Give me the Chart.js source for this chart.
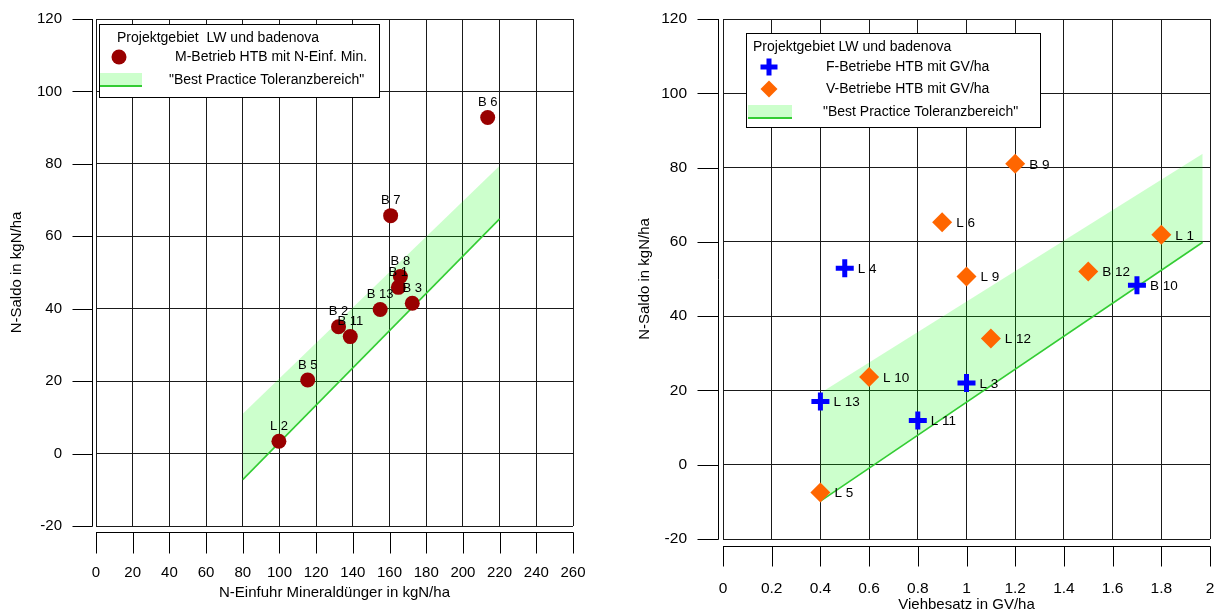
<!DOCTYPE html>
<html>
<head>
<meta charset="utf-8">
<script src="https://cdn.jsdelivr.net/npm/chart.js@4.4.0/dist/chart.umd.min.js"></script>
<style>
  html, body { margin: 0; padding: 0; background: #fff; }
  #wrap { position: relative; width: 1218px; height: 614px; }
  canvas { position: absolute; top: 0; }
  #left { left: 0; }
  #right { left: 609px; }
</style>
</head>
<body>
<div id="wrap">
  <canvas id="left" width="609" height="614"></canvas>
  <canvas id="right" width="609" height="614"></canvas>
</div>
<script>
// ---- linkes Diagramm: N-Einfuhr Mineraldünger ----
const mNames = ['B 6', 'B 7', 'B 8', 'B 1', 'B 3', 'B 13', 'B 2', 'B 11', 'B 5', 'L 2'];
const mX = [213.5, 160.6, 165.9, 164.8, 172.4, 154.9, 132.2, 138.6, 115.4, 99.7];
const mY = [92.8, 65.7, 48.9, 45.9, 41.5, 39.8, 35.0, 32.3, 20.3, 3.4];
const bandLeftX = [80, 220];
const bandLeftUpper = [11, 79.5];
const bandLeftLower = [-7.2, 64.8];
const xTicksLeft = [0, 20, 40, 60, 80, 100, 120, 140, 160, 180, 200, 220, 240, 260];
const yTicks = [-20, 0, 20, 40, 60, 80, 100, 120];

// ---- rechtes Diagramm: Viehbesatz ----
const fNames = ['L 4', 'B 10', 'L 3', 'L 13', 'L 11'];
const fX = [0.5, 1.7, 1.0, 0.4, 0.8];
const fY = [52.9, 48.3, 22.0, 17.0, 11.9];
const vNames = ['B 9', 'L 6', 'L 1', 'L 9', 'B 12', 'L 12', 'L 10', 'L 5'];
const vX = [1.2, 0.9, 1.8, 1.0, 1.5, 1.1, 0.6, 0.4];
const vY = [81.0, 65.3, 61.9, 50.7, 52.0, 34.0, 23.6, -7.5];
const bandRightX = [0.4, 1.97];
const bandRightUpper = [19.3, 83.7];
const bandRightLower = [-9.8, 59.9];
const xTicksRight = [0, 0.2, 0.4, 0.6, 0.8, 1, 1.2, 1.4, 1.6, 1.8, 2];
const xTickLabelsRight = ['0', '0.2', '0.4', '0.6', '0.8', '1', '1.2', '1.4', '1.6', '1.8', '2'];

const legendTitleLeft = 'Projektgebiet  LW und badenova';
const legendTitleRight = 'Projektgebiet LW und badenova';
const mLegend = 'M-Betrieb HTB mit N-Einf. Min.';
const fLegend = 'F-Betriebe HTB mit GV/ha';
const vLegend = 'V-Betriebe HTB mit GV/ha';
const bandLegend = '"Best Practice Toleranzbereich"';
const yTitle = 'N-Saldo in kgN/ha';

const FONT = "'Liberation Sans', Arial, sans-serif";
const bandFill = 'rgba(0, 255, 0, 0.2)';
const bandLine = '#33cc33';
const darkRed = '#990000';
const blue = '#0000ff';
const orange = '#ff6600';

Chart.defaults.font.family = FONT;
Chart.defaults.color = '#000';

const pts = (xs, ys) => xs.map((x, i) => ({ x: x, y: ys[i] }));

// Achsen mit Abstand zum Plotbereich
function offsetAxes(gapY, tickY, gapX, tickX) {
  return {
    id: 'offsetAxes',
    afterDraw(chart) {
      const { ctx, chartArea: a, scales: { x, y } } = chart;
      ctx.save();
      ctx.strokeStyle = '#000';
      ctx.lineWidth = 1;
      ctx.beginPath();
      const ax = Math.round(a.left - gapY) + 0.5;
      ctx.moveTo(ax, a.top);
      ctx.lineTo(ax, a.bottom + 0.5);
      y.ticks.forEach(t => {
        const py = Math.round(y.getPixelForValue(t.value)) + 0.5;
        ctx.moveTo(ax - tickY, py);
        ctx.lineTo(ax, py);
      });
      const ay = Math.round(a.bottom + gapX) + 0.5;
      ctx.moveTo(a.left, ay);
      ctx.lineTo(a.right + 0.5, ay);
      x.ticks.forEach(t => {
        const px = Math.round(x.getPixelForValue(t.value)) + 0.5;
        ctx.moveTo(px, ay);
        ctx.lineTo(px, ay + tickX);
      });
      ctx.stroke();
      ctx.restore();
    }
  };
}

// Beschriftung der Punkte
const pointNames = {
  id: 'pointNames',
  afterDatasetsDraw(chart) {
    const ctx = chart.ctx;
    ctx.save();
    chart.data.datasets.forEach((ds, i) => {
      if (!ds.names) return;
      ctx.font = ds.nameFont + 'px ' + FONT;
      ctx.fillStyle = '#000';
      ctx.textAlign = ds.nameAlign;
      ctx.textBaseline = 'middle';
      chart.getDatasetMeta(i).data.forEach((el, j) => {
        ctx.fillText(ds.names[j], el.x + ds.nameDx, el.y + ds.nameDy);
      });
    });
    ctx.restore();
  }
};

// Legende im Kasten
function boxLegend(cfg) {
  return {
    id: 'boxLegend',
    afterDraw(chart) {
      const ctx = chart.ctx;
      const [bx, by, bw, bh] = cfg.box;
      ctx.save();
      ctx.fillStyle = '#fff';
      ctx.fillRect(bx, by, bw, bh);
      ctx.strokeStyle = '#000';
      ctx.lineWidth = 1;
      ctx.strokeRect(bx + 0.5, by + 0.5, bw, bh);
      ctx.font = '14px ' + FONT;
      ctx.textAlign = 'left';
      ctx.textBaseline = 'middle';
      ctx.fillStyle = '#000';
      ctx.fillText(cfg.title, cfg.titleX, cfg.titleY);
      cfg.items.forEach(it => {
        if (it.band) {
          ctx.fillStyle = bandFill;
          ctx.fillRect(it.mx, it.my, it.mw, it.mh);
          ctx.strokeStyle = bandLine;
          ctx.lineWidth = 2;
          ctx.beginPath();
          ctx.moveTo(it.mx, it.my + it.mh);
          ctx.lineTo(it.mx + it.mw, it.my + it.mh);
          ctx.stroke();
        } else {
          ctx.fillStyle = it.color;
          ctx.strokeStyle = it.color;
          ctx.lineWidth = it.borderWidth;
          Chart.helpers.drawPoint(ctx, { pointStyle: it.style, radius: it.radius, borderWidth: it.borderWidth, rotation: 0 }, it.mx, it.my);
        }
        ctx.fillStyle = '#000';
        ctx.fillText(it.text, it.tx, it.ty);
      });
      ctx.restore();
    }
  };
}

function bandSets(xs, upper, lower) {
  return [
    { type: 'line', data: pts(xs, upper), showLine: true, borderColor: 'transparent', borderWidth: 0,
      pointRadius: 0, fill: '+1', backgroundColor: bandFill, order: 3 },
    { type: 'line', data: pts(xs, lower), showLine: true, borderColor: bandLine, borderWidth: 1.6,
      pointRadius: 0, fill: false, order: 2 }
  ];
}

function scales(o) {
  const grid = { color: '#1a1a1a', lineWidth: 1, drawTicks: false };
  return {
    x: {
      type: 'linear', min: o.xMin, max: o.xMax,
      afterBuildTicks: s => { s.ticks = o.xTicks.map(v => ({ value: v })); },
      ticks: { autoSkip: false, maxRotation: 0, padding: o.xPad, font: { size: o.tickSize },
               callback: (v, i) => o.xLabels[i] },
      grid: grid, border: { display: false },
      title: { display: true, text: o.xTitle, font: { size: 15 }, padding: { top: 0, bottom: o.xTitlePad } },
      // feste Höhe, keine zusätzliche Randpolsterung durch das Tick-Padding
      afterFit: s => { s.height = o.xHeight; s.paddingLeft = 0; s.paddingRight = 0; }
    },
    y: {
      type: 'linear', min: -20, max: 120,
      afterBuildTicks: s => { s.ticks = yTicks.map(v => ({ value: v })); },
      ticks: { autoSkip: false, padding: o.yPad, font: { size: o.tickSize },
               callback: (v, i) => String(yTicks[i]) },
      grid: grid, border: { display: false },
      title: { display: true, text: yTitle, font: { size: 15 }, padding: { top: o.yTitlePad, bottom: 0 } },
      afterFit: s => { s.width = o.yWidth; s.paddingTop = 0; s.paddingBottom = 0; }
    }
  };
}

const common = {
  responsive: false,
  animation: false,
  devicePixelRatio: 1,
  events: [],
  plugins: { legend: { display: false }, tooltip: { enabled: false } }
};

new Chart(document.getElementById('left'), {
  type: 'scatter',
  data: {
    datasets: [
      { data: pts(mX, mY), backgroundColor: darkRed, borderColor: darkRed, pointRadius: 7.5, borderWidth: 0,
        order: 1, names: mNames, nameFont: 13, nameAlign: 'center', nameDx: 0, nameDy: -15 }
    ].concat(bandSets(bandLeftX, bandLeftUpper, bandLeftLower))
  },
  options: Object.assign({}, common, {
    layout: { autoPadding: false, padding: { top: 19, right: 36, left: 0, bottom: 0 } },
    scales: scales({
      xMin: 0, xMax: 260, xTicks: xTicksLeft, xLabels: xTicksLeft.map(String),
      xTitle: 'N-Einfuhr Mineraldünger in kgN/ha', tickSize: 15,
      xPad: 38, xTitlePad: 12, xHeight: 88, yPad: 34, yTitlePad: 8, yWidth: 96
    })
  }),
  plugins: [offsetAxes(4, 20, 6, 21), pointNames, boxLegend({
    box: [99, 24, 280, 73], title: legendTitleLeft, titleX: 117, titleY: 38,
    items: [
      { style: 'circle', color: darkRed, radius: 7.5, borderWidth: 0, mx: 119, my: 57, text: mLegend, tx: 175, ty: 57 },
      { band: true, mx: 100, my: 73, mw: 42, mh: 13, text: bandLegend, tx: 169, ty: 80 }
    ]
  })]
});

new Chart(document.getElementById('right'), {
  type: 'scatter',
  data: {
    datasets: [
      { data: pts(fX, fY), pointStyle: 'cross', borderColor: blue, backgroundColor: blue, pointRadius: 9, borderWidth: 5,
        order: 1, names: fNames, nameFont: 13.5, nameAlign: 'left', nameDx: 13, nameDy: 1 },
      { data: pts(vX, vY), pointStyle: 'rectRot', borderColor: orange, backgroundColor: orange, pointRadius: 10, borderWidth: 0,
        order: 1, names: vNames, nameFont: 13.5, nameAlign: 'left', nameDx: 14, nameDy: 1 }
    ].concat(bandSets(bandRightX, bandRightUpper, bandRightLower))
  },
  options: Object.assign({}, common, {
    layout: { autoPadding: false, padding: { top: 19, right: 8, left: 0, bottom: 0 } },
    scales: scales({
      xMin: 0, xMax: 2, xTicks: xTicksRight, xLabels: xTickLabelsRight,
      xTitle: 'Viehbesatz in GV/ha', tickSize: 15.5,
      xPad: 40, xTitlePad: 0, xHeight: 75, yPad: 36, yTitlePad: 27, yWidth: 114
    })
  }),
  plugins: [offsetAxes(5, 21, 7, 20), pointNames, boxLegend({
    box: [137, 33, 294, 94], title: legendTitleRight, titleX: 144, titleY: 47,
    items: [
      { style: 'cross', color: blue, radius: 8.5, borderWidth: 5, mx: 160, my: 67, text: fLegend, tx: 217, ty: 67 },
      { style: 'rectRot', color: orange, radius: 8.5, borderWidth: 0, mx: 160, my: 89, text: vLegend, tx: 217, ty: 89 },
      { band: true, mx: 139, my: 105, mw: 44, mh: 13, text: bandLegend, tx: 214, ty: 112 }
    ]
  })]
});
</script>
</body>
</html>
